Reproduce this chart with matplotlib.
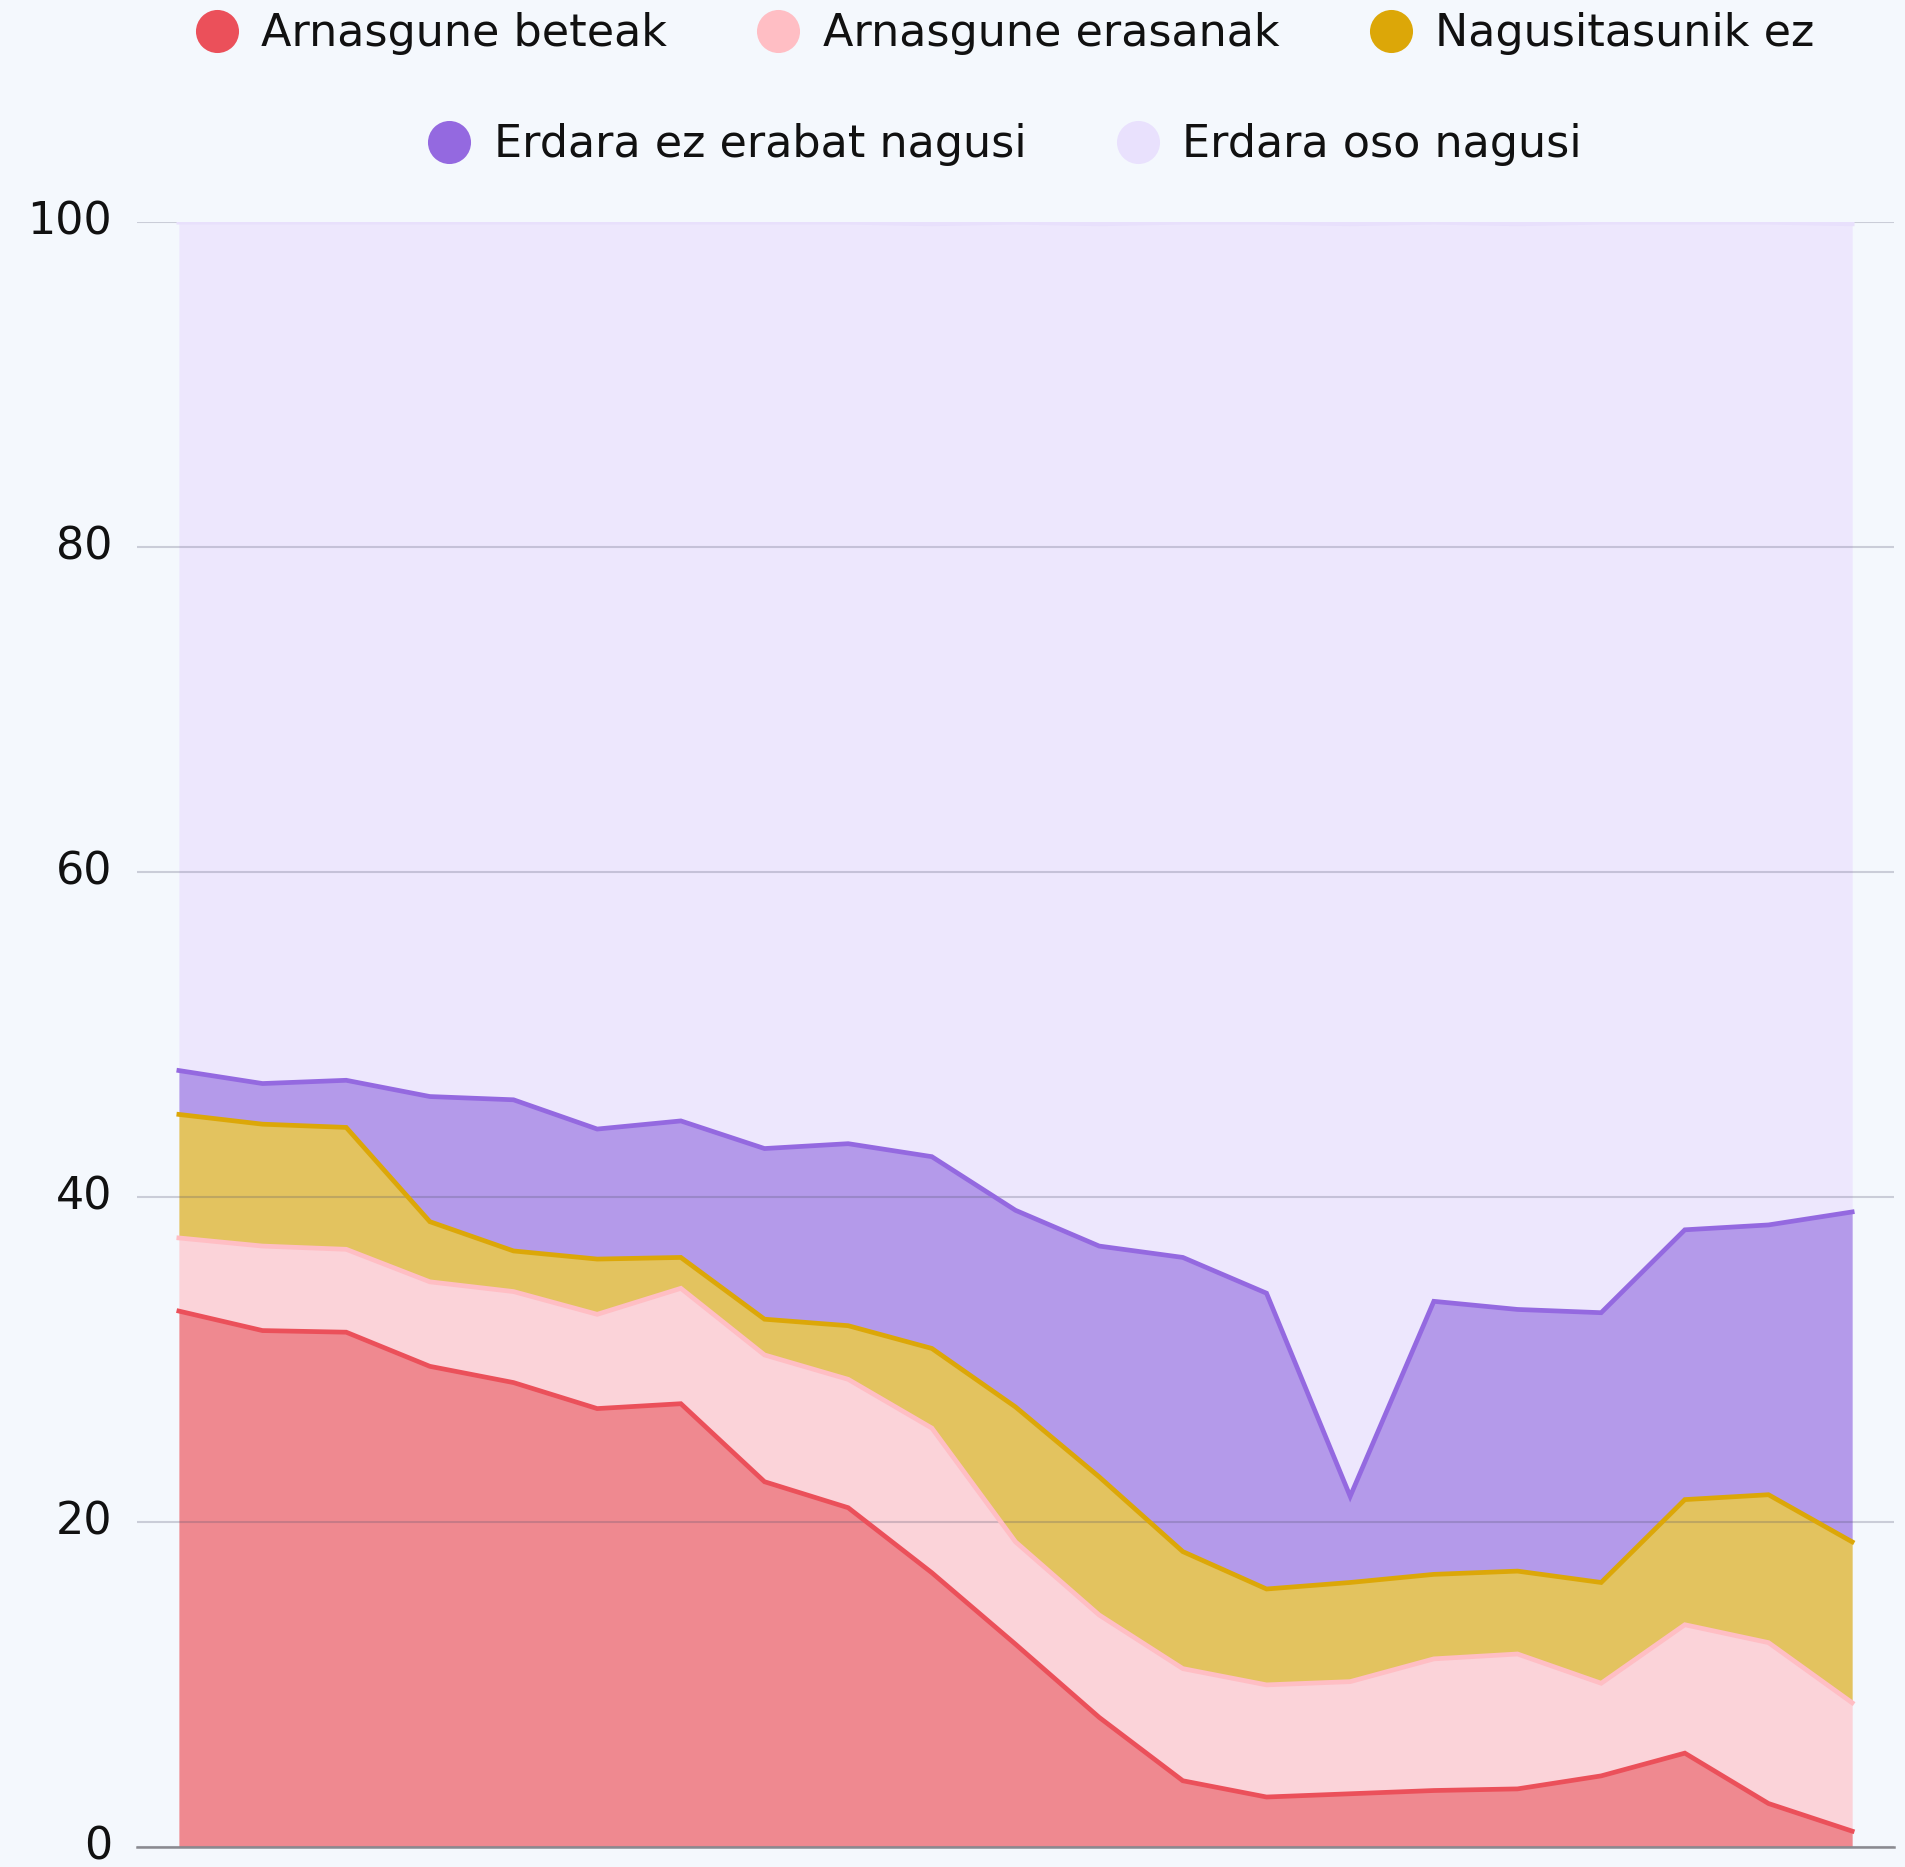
import numpy as np
import matplotlib
matplotlib.use("Agg")
import matplotlib.pyplot as plt
from matplotlib.lines import Line2D

labels = ["Arnasgune beteak", "Arnasgune erasanak", "Nagusitasunik ez",
          "Erdara ez erabat nagusi", "Erdara oso nagusi"]

beteak = [33.0, 31.8, 31.7, 29.6, 28.6, 27.0, 27.3, 22.5, 20.9, 16.9, 12.5,
          8.0, 4.1, 3.1, 3.3, 3.5, 3.6, 4.4, 5.8, 2.7, 1.0]
erasanak = [4.5, 5.2, 5.1, 5.2, 5.6, 5.8, 7.1, 7.8, 7.9, 8.9, 6.3,
            6.3, 6.9, 6.9, 6.9, 8.1, 8.3, 5.7, 7.9, 9.9, 7.9]
nagusitasunik_ez = [7.6, 7.5, 7.5, 3.7, 2.5, 3.4, 1.9, 2.2, 3.3, 4.9, 8.3,
                    8.5, 7.2, 5.9, 6.1, 5.2, 5.1, 6.2, 7.7, 9.1, 9.9]
ez_erabat = [2.7, 2.5, 2.9, 7.7, 9.3, 8.0, 8.4, 10.5, 11.2, 11.8, 12.1,
             14.2, 18.1, 18.2, 5.3, 16.8, 16.1, 16.6, 16.6, 16.6, 20.3]
oso_nagusi = [52.2, 53.0, 52.8, 53.8, 54.0, 55.8, 55.3, 57.0, 56.7, 57.4, 60.8,
              62.9, 63.7, 65.9, 78.3, 66.4, 66.8, 67.1, 62.0, 61.7, 60.8]

line_colors = ["#EB505A", "#FFBEC4", "#DCA708", "#9469E0", "#E8E0FC"]
fill_colors = ["#EF8990", "#FBD3D9", "#E3C35F", "#B49AEA", "#EDE7FD"]
bg = "#F4F8FD"

series = np.array([beteak, erasanak, nagusitasunik_ez, ez_erabat, oso_nagusi])
tops = np.cumsum(series, axis=0)
x = np.arange(series.shape[1])

fig = plt.figure(figsize=(19.06, 18.67), dpi=100, facecolor=bg)
ax = fig.add_axes([0.0719, 0.0105, 0.9218, 0.8705])
ax.set_facecolor(bg)

bottom = np.zeros(len(x))
for i in range(len(series)):
    ax.fill_between(x, bottom, tops[i], color=fill_colors[i], lw=0, zorder=1)
    bottom = tops[i]
for i in range(len(series)):
    ax.plot(x, tops[i], color=line_colors[i], lw=3.4, zorder=3,
            solid_joinstyle="miter")

ax.set_xlim(-0.5, len(x) - 0.5)
ax.set_ylim(0, 100)
ax.set_yticks([0, 20, 40, 60, 80, 100])
ax.set_xticks([])
ax.yaxis.grid(True, color="#50506a", alpha=0.25, lw=1.5, zorder=2)
ax.set_axisbelow(False)
for s in ["top", "right", "left"]:
    ax.spines[s].set_visible(False)
ax.spines["bottom"].set_color("#8a8a90")
ax.spines["bottom"].set_linewidth(1.8)
ax.spines["bottom"].set_zorder(4)
ax.tick_params(axis="y", length=0, pad=18, labelsize=32, labelcolor="#111111")
for t in ax.get_yticklabels():
    t.set_verticalalignment("center")

def handles(idx):
    return [Line2D([], [], marker="o", ls="", markersize=31,
                   markerfacecolor=line_colors[i] if i < 4 else "#E9E1FD",
                   markeredgewidth=0) for i in idx]

kw = dict(loc="center", frameon=False, fontsize=32, handlelength=1.0,
          handletextpad=0.5, columnspacing=2.0, borderpad=0, labelcolor="#111111")
fig.legend(handles([0, 1, 2]), labels[:3], ncol=3,
           bbox_to_anchor=(0.527, 0.982), **kw)
fig.legend(handles([3, 4]), labels[3:], ncol=2,
           bbox_to_anchor=(0.527, 0.9225), **kw)

fig.savefig("out.png", dpi=100, facecolor=bg)
